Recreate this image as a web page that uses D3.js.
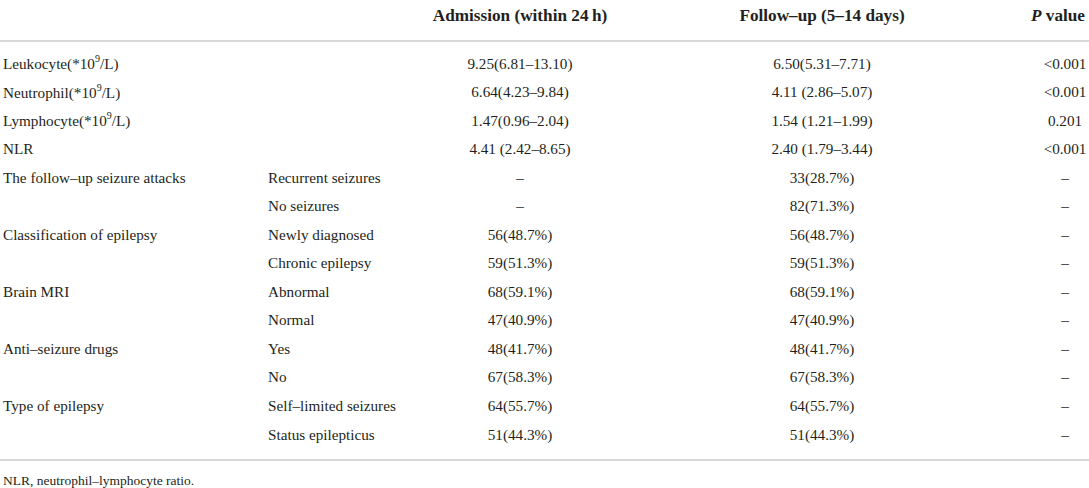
<!DOCTYPE html>
<html>
<head>
<meta charset="utf-8">
<script src="https://cdn.jsdelivr.net/npm/d3@7"></script>
<style>
  body { margin: 0; background: #fff; }
  text { font-family: "Liberation Serif", "DejaVu Serif", serif; fill: #231f20; }
</style>
</head>
<body>
<script>
const width = 1089;
const height = 488;

// table content
const headers = ["", "", "Admission (within 24\u2009h)", "Follow–up (5–14 days)", "P value"];
const mainLabels = ["Leukocyte(*10^9/L)", "Neutrophil(*10^9/L)", "Lymphocyte(*10^9/L)", "NLR",
  "The follow–up seizure attacks", "", "Classification of epilepsy", "", "Brain MRI", "",
  "Anti–seizure drugs", "", "Type of epilepsy", ""];
const subLabels = ["", "", "", "", "Recurrent seizures", "No seizures", "Newly diagnosed",
  "Chronic epilepsy", "Abnormal", "Normal", "Yes", "No", "Self–limited seizures", "Status epilepticus"];
const admission = ["9.25(6.81–13.10)", "6.64(4.23–9.84)", "1.47(0.96–2.04)", "4.41 (2.42–8.65)",
  "–", "–", "56(48.7%)", "59(51.3%)", "68(59.1%)", "47(40.9%)", "48(41.7%)", "67(58.3%)",
  "64(55.7%)", "51(44.3%)"];
const followUp = ["6.50(5.31–7.71)", "4.11 (2.86–5.07)", "1.54 (1.21–1.99)", "2.40 (1.79–3.44)",
  "33(28.7%)", "82(71.3%)", "56(48.7%)", "59(51.3%)", "68(59.1%)", "47(40.9%)", "48(41.7%)",
  "67(58.3%)", "64(55.7%)", "51(44.3%)"];
const pValues = ["<0.001", "<0.001", "0.201", "<0.001", "–", "–", "–", "–", "–", "–", "–", "–", "–", "–"];
const footnote = "NLR, neutrophil–lymphocyte ratio.";

const columns = [mainLabels, subLabels, admission, followUp, pValues];

const xScale = d3.scaleOrdinal()
                 .domain(d3.range(columns.length))
                 .range([3, 268, 520, 822, 1065]);
const anchors = ["start", "start", "middle", "middle", "middle"];

const yScale = d3.scalePoint()
                 .domain(d3.range(mainLabels.length))
                 .range([63, 434]);

const svg = d3.select('body').append("svg")
              .attr('width', width)
              .attr("height", height);

// header (P value header sits a little left of its column)
const head = svg.append("g")
   .selectAll("text")
   .data(headers)
   .enter()
   .append("text")
   .attr("x", (d, i) => i == 4 ? xScale(i) - 7 : xScale(i))
   .attr("y", 15)
   .attr("dominant-baseline", "central")
   .attr("text-anchor", (d, i) => anchors[i])
   .attr("font-size", 17.2)
   .attr("font-weight", "bold");

head.each(function(d) {
  const t = d3.select(this);
  if (d.startsWith("P ")) {
    t.append("tspan").attr("font-style", "italic").text("P");
    t.append("tspan").text(d.slice(1));
  } else {
    t.text(d);
  }
});

// rules
svg.append("g")
   .selectAll("line")
   .data([41, 460])
   .enter()
   .append("line")
   .attr("x1", 0)
   .attr("x2", width)
   .attr("y1", d => d)
   .attr("y2", d => d)
   .attr("stroke", "#cccccc")
   .attr("stroke-width", 1.5);

// body cells
columns.forEach(function(col, c) {
  const cells = svg.append("g")
     .selectAll("text")
     .data(col)
     .enter()
     .append("text")
     .attr("x", xScale(c))
     .attr("y", (d, i) => yScale(i))
     .attr("dominant-baseline", "central")
     .attr("text-anchor", anchors[c])
     .attr("font-size", 15.2);

  cells.each(function(d) {
    const t = d3.select(this);
    const parts = d.split("^9");
    if (parts.length > 1) {
      t.append("tspan").text(parts[0]);
      t.append("tspan").attr("dy", -5).attr("font-size", 10).text("9");
      t.append("tspan").attr("dy", 5).text(parts[1]);
    } else {
      t.text(d);
    }
  });
});

svg.append("text")
   .attr("x", 3)
   .attr("y", 480)
   .attr("dominant-baseline", "central")
   .attr("font-size", 13.5)
   .text(footnote);
</script>
</body>
</html>
